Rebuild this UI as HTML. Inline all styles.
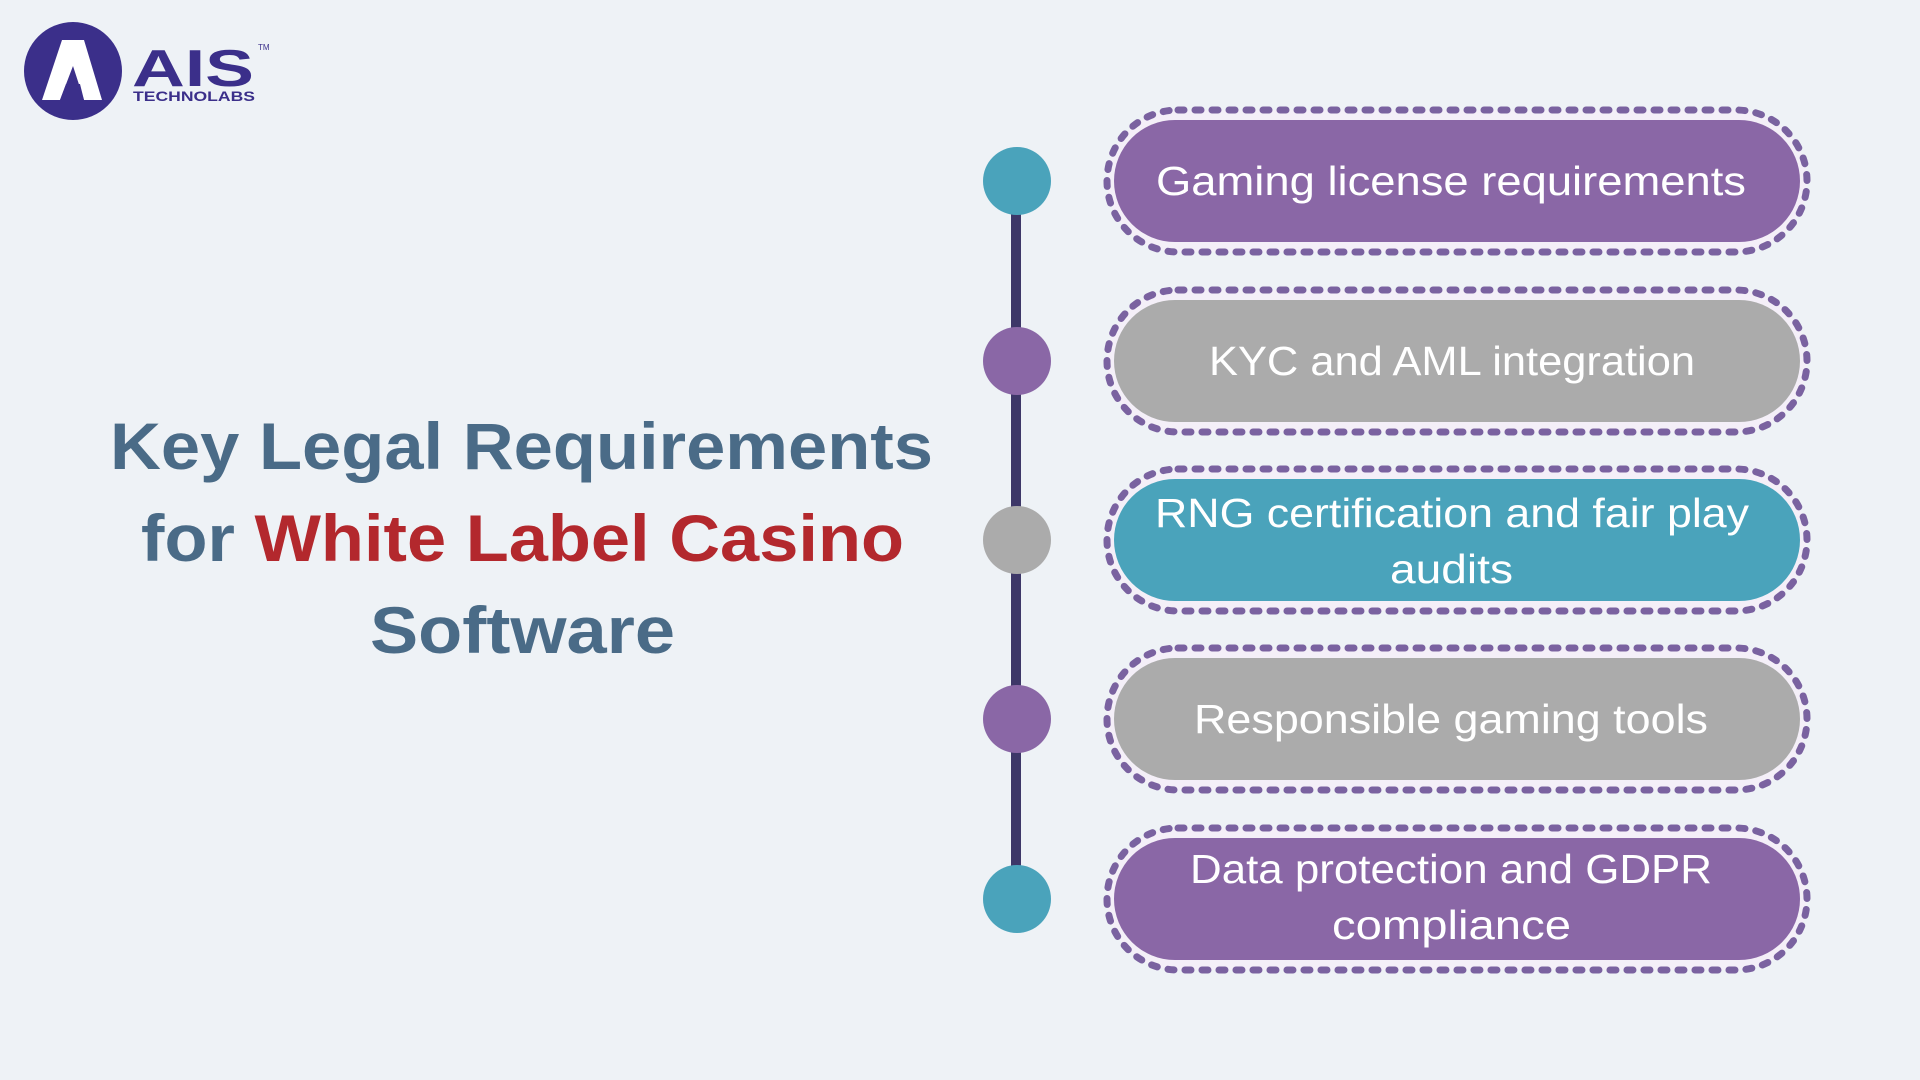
<!DOCTYPE html>
<html><head><meta charset="utf-8"><style>
html,body{margin:0;padding:0;background:#eef2f6;}
svg{display:block;}
</style></head><body>
<svg width="1920" height="1080" viewBox="0 0 1920 1080" xmlns="http://www.w3.org/2000/svg">
<rect width="1920" height="1080" fill="#eef2f6"/>
<!-- logo -->
<circle cx="73" cy="71" r="49" fill="#3b2f8a"/>
<path d="M62 40 L84 40 L102 100 L84 100 L73 66 L60 100 L42 100 Z" fill="#fff"/>
<path d="M66 84 L80 84 L84 100 L60 100 Z" fill="#3b2f8a"/>
<text x="132" y="86" font-family="Liberation Sans, sans-serif" font-weight="bold" font-size="52" fill="#3b2f8a" textLength="122" lengthAdjust="spacingAndGlyphs">AIS</text>
<text x="258" y="50" font-family="Liberation Sans, sans-serif" font-size="8" fill="#3b2f8a">TM</text>
<text x="133" y="101" font-family="Liberation Sans, sans-serif" font-weight="bold" font-size="14" fill="#3b2f8a" textLength="122" lengthAdjust="spacingAndGlyphs">TECHNOLABS</text>

<!-- title -->
<g font-family="Liberation Sans, sans-serif" font-weight="bold" font-size="66" fill="#4a6b87">
<text x="110" y="469" textLength="823" lengthAdjust="spacingAndGlyphs">Key Legal Requirements</text>
<text x="141" y="561" textLength="763" lengthAdjust="spacingAndGlyphs">for <tspan fill="#b3282d">White Label Casino</tspan></text>
<text x="370" y="653" textLength="305" lengthAdjust="spacingAndGlyphs">Software</text>
</g>

<!-- timeline -->
<rect x="1011" y="181" width="10" height="718" fill="#3d3768"/>
<circle cx="1017" cy="181" r="34" fill="#4aa3bb"/>
<circle cx="1017" cy="361" r="34" fill="#8a67a6"/>
<circle cx="1017" cy="540" r="34" fill="#ababab"/>
<circle cx="1017" cy="719" r="34" fill="#8a67a6"/>
<circle cx="1017" cy="899" r="34" fill="#4aa3bb"/>

<!-- pills -->
<g stroke="#7a62a0" stroke-width="7" stroke-dasharray="6 11" stroke-linecap="round" fill="#f4eff8">
<rect x="1107" y="110" width="700" height="142" rx="71"/>
<rect x="1107" y="290" width="700" height="142" rx="71"/>
<rect x="1107" y="469" width="700" height="142" rx="71"/>
<rect x="1107" y="648" width="700" height="142" rx="71"/>
<rect x="1107" y="828" width="700" height="142" rx="71"/>
</g>
<rect x="1114" y="120" width="686" height="122" rx="61" fill="#8a67a6"/>
<rect x="1114" y="300" width="686" height="122" rx="61" fill="#ababab"/>
<rect x="1114" y="479" width="686" height="122" rx="61" fill="#4aa3bb"/>
<rect x="1114" y="658" width="686" height="122" rx="61" fill="#ababab"/>
<rect x="1114" y="838" width="686" height="122" rx="61" fill="#8a67a6"/>

<g font-family="Liberation Sans, sans-serif" font-size="41" fill="#ffffff" lengthAdjust="spacingAndGlyphs">
<text x="1156" y="195" textLength="590" lengthAdjust="spacingAndGlyphs">Gaming license requirements</text>
<text x="1209" y="375" textLength="486" lengthAdjust="spacingAndGlyphs">KYC and AML integration</text>
<text x="1155" y="527" textLength="594" lengthAdjust="spacingAndGlyphs">RNG certification and fair play</text>
<text x="1390" y="583" textLength="123" lengthAdjust="spacingAndGlyphs">audits</text>
<text x="1194" y="733" textLength="514" lengthAdjust="spacingAndGlyphs">Responsible gaming tools</text>
<text x="1190" y="883" textLength="522" lengthAdjust="spacingAndGlyphs">Data protection and GDPR</text>
<text x="1332" y="939" textLength="239" lengthAdjust="spacingAndGlyphs">compliance</text>
</g>
</svg>
</body></html>
